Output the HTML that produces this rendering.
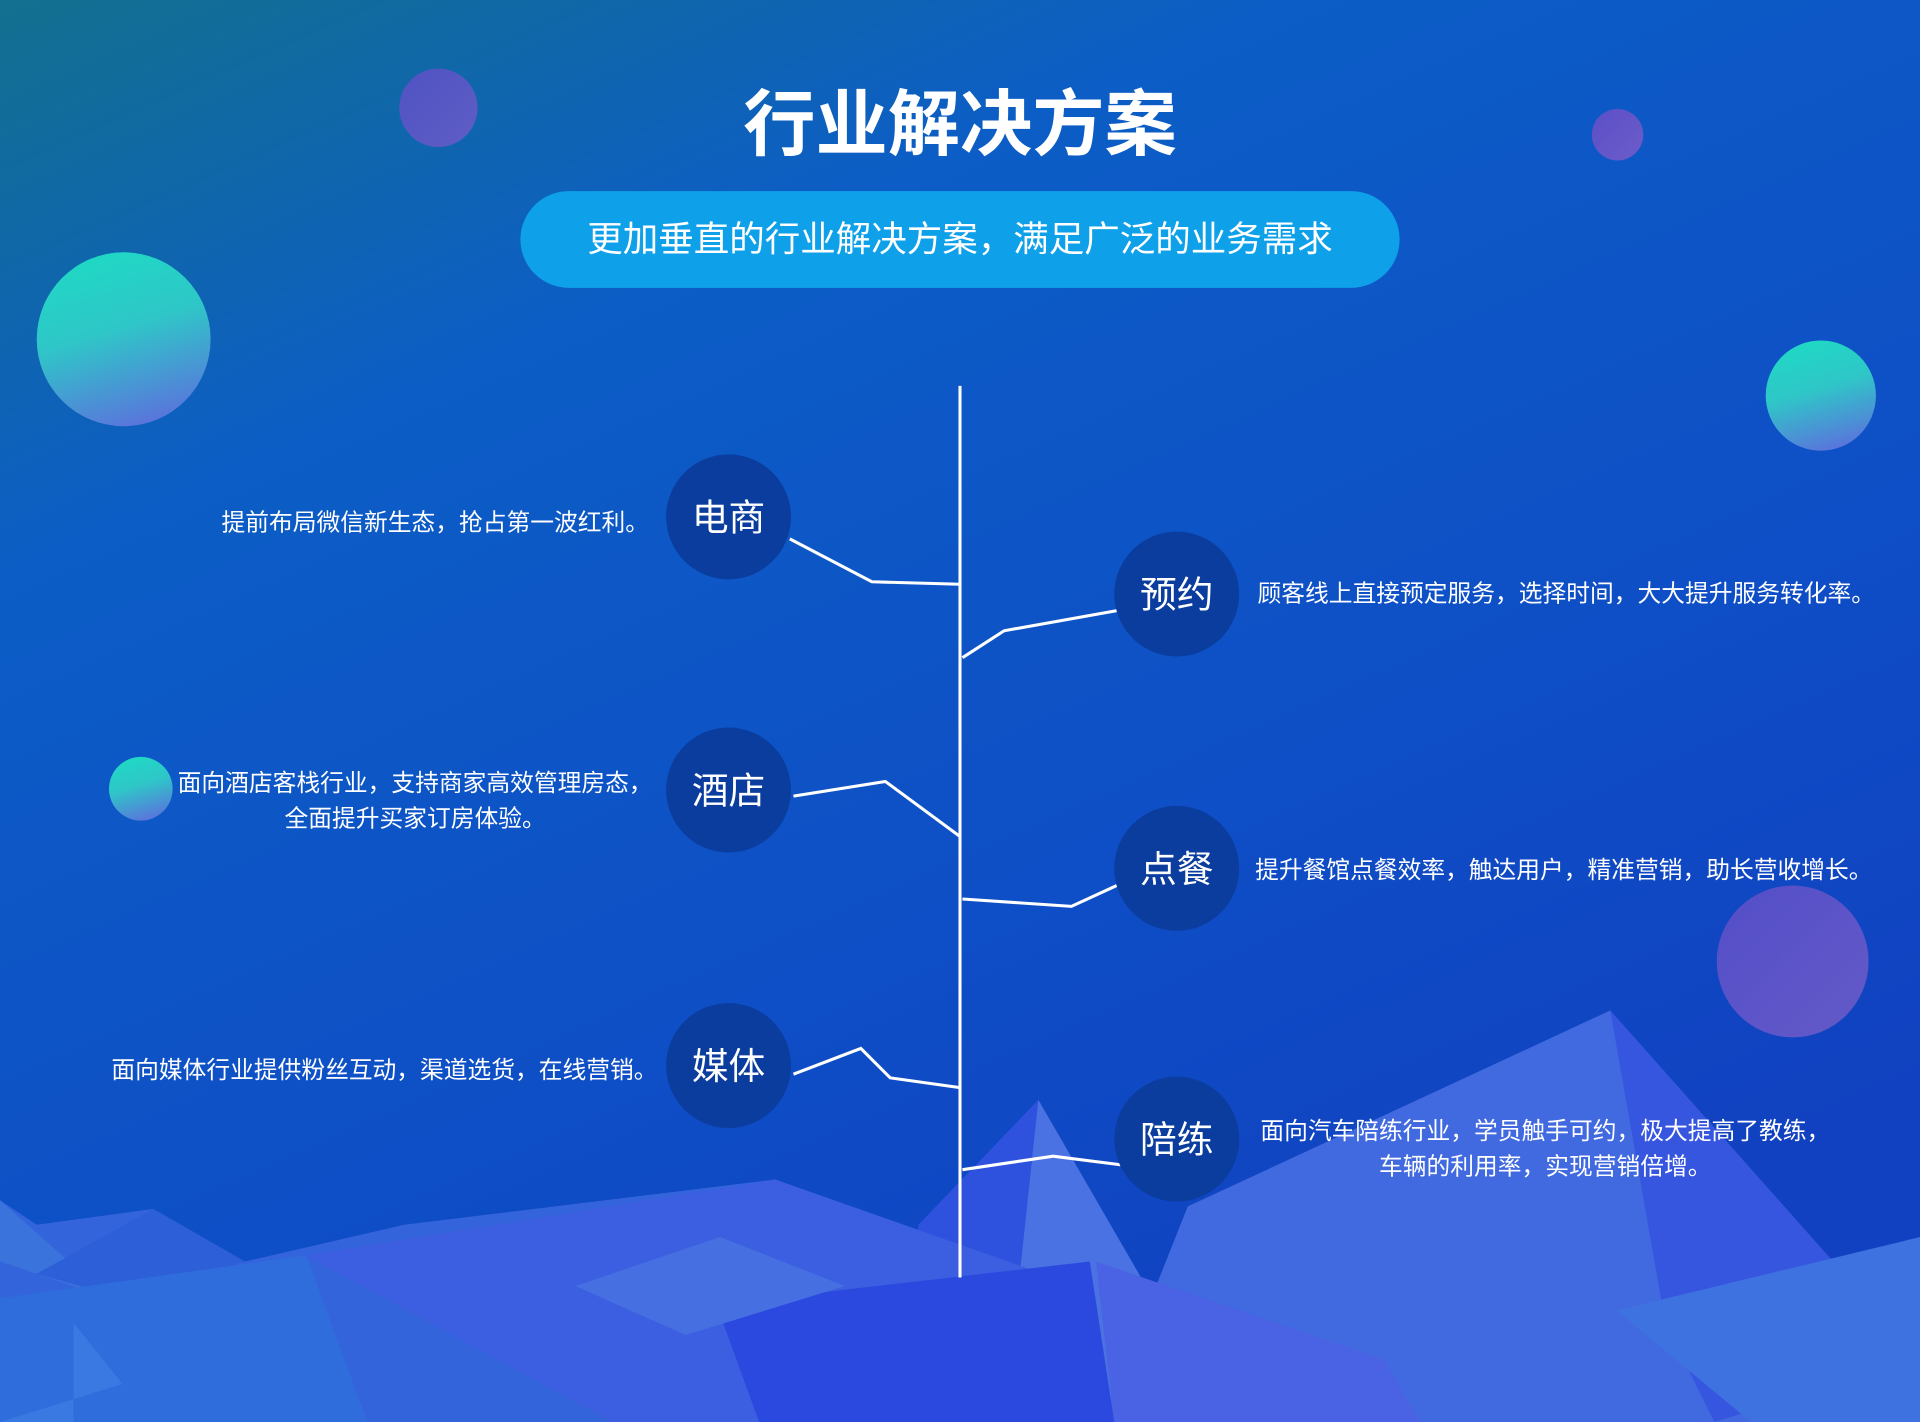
<!DOCTYPE html>
<html><head><meta charset="utf-8"><style>
html,body{margin:0;padding:0;width:1920px;height:1422px;overflow:hidden}
svg{display:block}
text{font-family:"Liberation Sans","Noto Sans CJK SC",sans-serif}
</style></head><body>
<svg width="1920" height="1422" viewBox="0 0 1568 1161" preserveAspectRatio="none" xmlns="http://www.w3.org/2000/svg">
<defs>
<linearGradient id="bg" x1="0" y1="0" x2="0.6" y2="1">
<stop offset="0" stop-color="#13708f"/><stop offset="0.3" stop-color="#0c5dc6"/><stop offset="0.7" stop-color="#0e4ec6"/><stop offset="1" stop-color="#1141c0"/>
</linearGradient>
<linearGradient id="ball" x1="0.3" y1="0" x2="0.6" y2="1"><stop offset="0" stop-color="#1fd9c4"/><stop offset="0.45" stop-color="#2fc6c8"/><stop offset="1" stop-color="#5a74dc"/></linearGradient>
<linearGradient id="pball" x1="0" y1="0" x2="1" y2="1"><stop offset="0" stop-color="#5b4fc8"/><stop offset="1" stop-color="#6d5cc9"/></linearGradient>
</defs>
<rect width="1568" height="1161" fill="url(#bg)"/>
<polygon points="760,1161 848,898 1000,1161" fill="#4a72e2"/>
<polygon points="750,1000 848,898 820,1161 740,1161" fill="#2f52de"/>
<polygon points="900,1161 970,985 1315,825 1568,1110 1568,1161" fill="#416ae0"/>
<polygon points="1315,825 1568,1110 1400,1161 1360,1080" fill="#3656e0"/>
<polygon points="0,980 30,1000 125,987 200,1030 330,1000 633,963 880,1050 900,1161 0,1161" fill="#3464dc"/>
<polygon points="0,980 90,1060 30,1040 0,1030" fill="#3a73dc"/>
<polygon points="30,1040 125,987 200,1030 100,1060" fill="#2d5fd8"/>
<polygon points="250,1025 633,963 880,1050 900,1161 500,1161" fill="#3b5fe0"/>
<polygon points="585,1065 890,1030 910,1161 620,1161" fill="#2b49de"/>
<polygon points="470,1050 588,1010 690,1050 560,1090" fill="#4670e2"/>
<polygon points="0,1060 250,1025 300,1161 0,1161" fill="#2f6ddc"/>
<polygon points="60,1080 100,1130 0,1161 60,1161" fill="#3a78e2"/>
<polygon points="895,1030 1130,1110 1160,1161 910,1161" fill="#4a62e4"/>
<polygon points="1320,1070 1568,1010 1568,1161 1430,1161" fill="#3e72e0"/>
<circle cx="358" cy="88" r="32" fill="url(#pball)" opacity="0.85"/>
<circle cx="1321" cy="110" r="21" fill="url(#pball)"/>
<circle cx="101" cy="277" r="71" fill="url(#ball)"/>
<circle cx="1487" cy="323" r="45" fill="url(#ball)"/>
<circle cx="115" cy="644" r="26" fill="url(#ball)"/>
<circle cx="1464" cy="785" r="62" fill="url(#pball)" opacity="0.9"/>
<text x="784" y="122" font-size="59" font-weight="bold" fill="#fff" text-anchor="middle">行业解决方案</text>
<rect x="425" y="156" width="718" height="79" rx="39.5" fill="#0fa0ea"/>
<text x="784" y="205" font-size="29" fill="#fff" text-anchor="middle">更加垂直的行业解决方案，满足广泛的业务需求</text>
<g stroke="#fff" stroke-width="2.5" fill="none">
<line x1="784" y1="315" x2="784" y2="1043"/>
<polyline points="645,440 712,475 784,477"/>
<polyline points="915,498 820,515 786,537"/>
<polyline points="648,650 723,638 784,683"/>
<polyline points="912,723 875,740 786,734"/>
<polyline points="648,877 703,856 727,880 784,888"/>
<polyline points="915,951 860,944 786,955"/>
</g>
<g fill="#0a3d9e">
<circle cx="595" cy="422" r="51"/><circle cx="961" cy="485" r="51"/>
<circle cx="595" cy="645" r="51"/><circle cx="961" cy="709" r="51"/>
<circle cx="595" cy="870" r="51"/><circle cx="961" cy="930" r="51"/>
</g>
<g fill="#fff" font-size="30" text-anchor="middle">
<text x="595" y="433">电商</text><text x="961" y="496">预约</text>
<text x="595" y="656">酒店</text><text x="961" y="720">点餐</text>
<text x="595" y="881">媒体</text><text x="961" y="941">陪练</text>
</g>
<g fill="#fff" font-size="19.4">
<text x="530" y="433" text-anchor="end">提前布局微信新生态，抢占第一波红利。</text>
<text x="1027" y="491">顾客线上直接预定服务，选择时间，大大提升服务转化率。</text>
<text x="339" y="646" text-anchor="middle">面向酒店客栈行业，支持商家高效管理房态，</text>
<text x="339" y="675" text-anchor="middle">全面提升买家订房体验。</text>
<text x="1025" y="717">提升餐馆点餐效率，触达用户，精准营销，助长营收增长。</text>
<text x="537" y="880" text-anchor="end">面向媒体行业提供粉丝互动，渠道选货，在线营销。</text>
<text x="1262" y="930" text-anchor="middle">面向汽车陪练行业，学员触手可约，极大提高了教练，</text>
<text x="1262" y="959" text-anchor="middle">车辆的利用率，实现营销倍增。</text>
</g>
</svg>
</body></html>
